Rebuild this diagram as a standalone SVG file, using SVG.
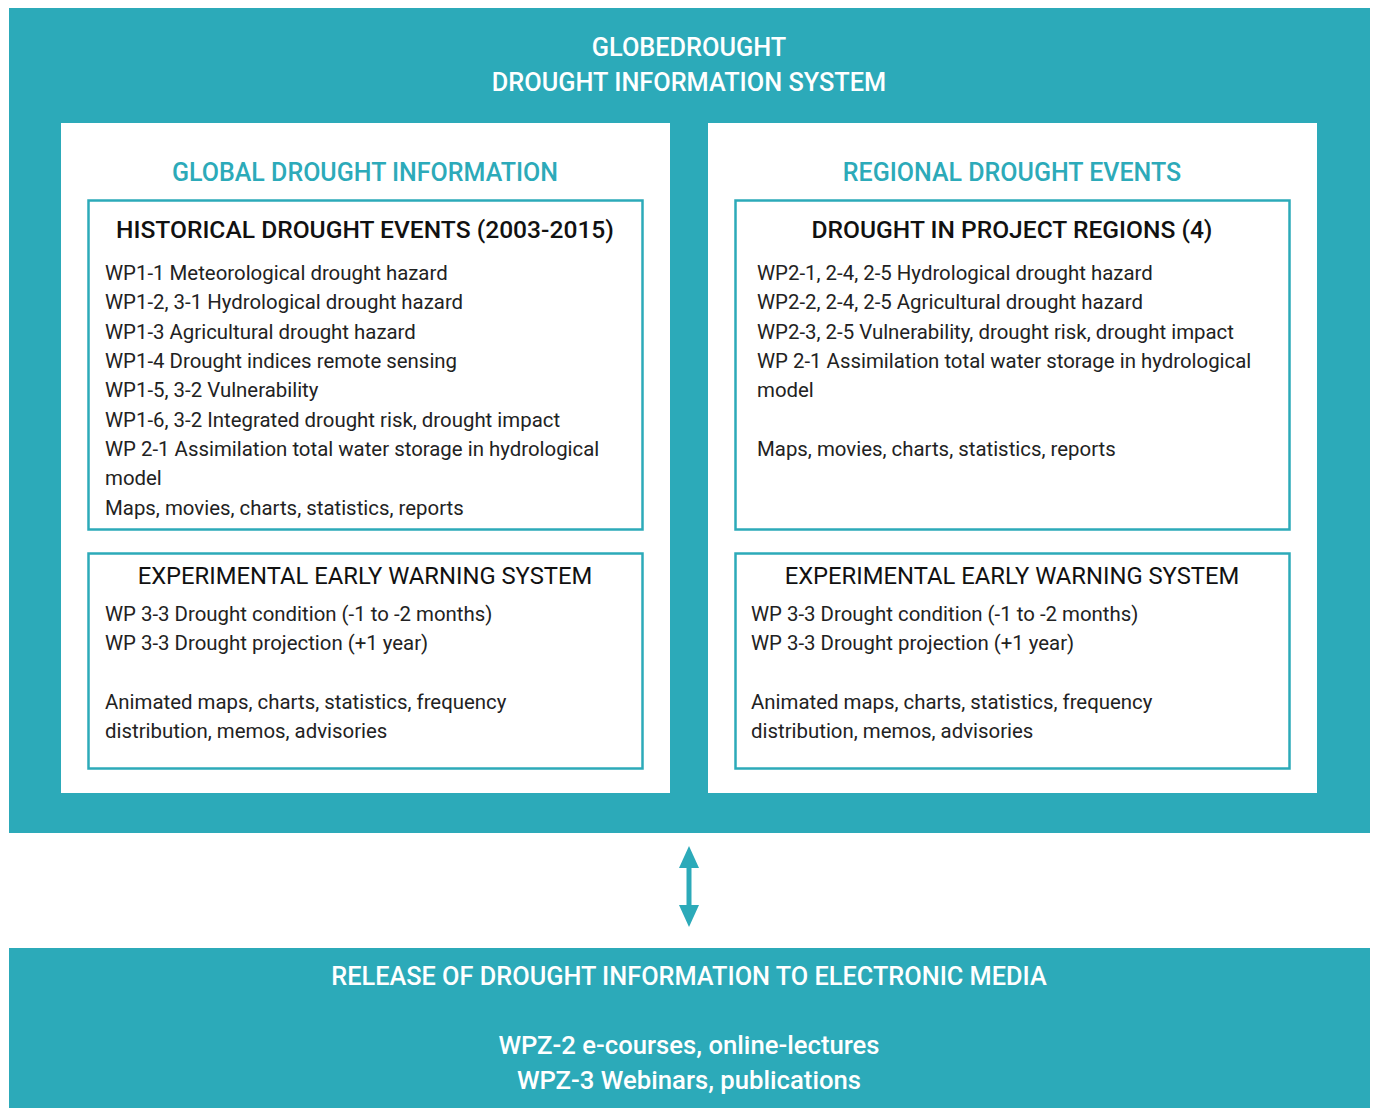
<svg xmlns="http://www.w3.org/2000/svg" width="1375" height="1108" viewBox="0 0 1375 1108">
<defs>
<style>
.teal{fill:#2caab9}
.panel{fill:#ffffff}
.box{fill:#ffffff;stroke:#2caab9;stroke-width:2.5}
text{font-family:Roboto,"Liberation Sans",sans-serif}
.hw{fill:#ffffff;font-size:25.3px;font-weight:500;text-anchor:middle}
.ht{fill:#2caab9;font-size:25px;font-weight:500;text-anchor:middle}
.bt{fill:#111111;font-size:24.6px;font-weight:500;text-anchor:middle}
.rt{fill:#111111;font-size:23.8px;font-weight:400;text-anchor:middle}
.ln{fill:#222222;font-size:20.4px}
.bw{fill:#ffffff;font-size:25.7px;font-weight:500;text-anchor:middle}
</style>
<marker id="ah" viewBox="0 0 11 10" refX="5" refY="5" markerWidth="4.4" markerHeight="4" orient="auto-start-reverse">
<path d="M0,0 L11,5 L0,10 z" fill="#2caab9"/>
</marker>
</defs>
<g id="system">
<rect class="teal" x="9" y="8" width="1361" height="825"/>
<text class="hw" x="689" y="56">GLOBEDROUGHT</text>
<text class="hw" x="689" y="91">DROUGHT INFORMATION SYSTEM</text>
</g>
<g id="global">
<rect class="panel" x="61" y="123" width="609" height="670"/>
<text class="ht" x="365" y="181">GLOBAL DROUGHT INFORMATION</text>
</g>
<g id="historical">
<rect class="box" x="88.5" y="200.5" width="554" height="329"/>
<text class="bt" x="365" y="238">HISTORICAL DROUGHT EVENTS (2003-2015)</text>
<text class="ln" x="105" y="280">WP1-1 Meteorological drought hazard</text>
<text class="ln" x="105" y="309">WP1-2, 3-1 Hydrological drought hazard</text>
<text class="ln" x="105" y="339">WP1-3 Agricultural drought hazard</text>
<text class="ln" x="105" y="368">WP1-4 Drought indices remote sensing</text>
<text class="ln" x="105" y="397">WP1-5, 3-2 Vulnerability</text>
<text class="ln" x="105" y="427">WP1-6, 3-2 Integrated drought risk, drought impact</text>
<text class="ln" x="105" y="456">WP 2-1 Assimilation total water storage in hydrological</text>
<text class="ln" x="105" y="485">model</text>
<text class="ln" x="105" y="515">Maps, movies, charts, statistics, reports</text>
</g>
<g id="ews-global">
<rect class="box" x="88.5" y="553.5" width="554" height="215"/>
<text class="rt" x="365" y="584">EXPERIMENTAL EARLY WARNING SYSTEM</text>
<text class="ln" x="105" y="621">WP 3-3 Drought condition (-1 to -2 months)</text>
<text class="ln" x="105" y="650">WP 3-3 Drought projection (+1 year)</text>
<text class="ln" x="105" y="709">Animated maps, charts, statistics, frequency</text>
<text class="ln" x="105" y="738">distribution, memos, advisories</text>
</g>
<g id="regional">
<rect class="panel" x="708" y="123" width="609" height="670"/>
<text class="ht" x="1012" y="181">REGIONAL DROUGHT EVENTS</text>
</g>
<g id="project-regions">
<rect class="box" x="735.5" y="200.5" width="554" height="329"/>
<text class="bt" x="1012" y="238">DROUGHT IN PROJECT REGIONS (4)</text>
<text class="ln" x="757" y="280">WP2-1, 2-4, 2-5 Hydrological drought hazard</text>
<text class="ln" x="757" y="309">WP2-2, 2-4, 2-5 Agricultural drought hazard</text>
<text class="ln" x="757" y="339">WP2-3, 2-5 Vulnerability, drought risk, drought impact</text>
<text class="ln" x="757" y="368">WP 2-1 Assimilation total water storage in hydrological</text>
<text class="ln" x="757" y="397">model</text>
<text class="ln" x="757" y="456">Maps, movies, charts, statistics, reports</text>
</g>
<g id="ews-regional">
<rect class="box" x="735.5" y="553.5" width="554" height="215"/>
<text class="rt" x="1012" y="584">EXPERIMENTAL EARLY WARNING SYSTEM</text>
<text class="ln" x="751" y="621">WP 3-3 Drought condition (-1 to -2 months)</text>
<text class="ln" x="751" y="650">WP 3-3 Drought projection (+1 year)</text>
<text class="ln" x="751" y="709">Animated maps, charts, statistics, frequency</text>
<text class="ln" x="751" y="738">distribution, memos, advisories</text>
</g>
<g id="release">
<rect class="teal" x="9" y="948" width="1361" height="160"/>
<text class="hw" x="689" y="985">RELEASE OF DROUGHT INFORMATION TO ELECTRONIC MEDIA</text>
<text class="bw" x="689" y="1054">WPZ-2 e-courses, online-lectures</text>
<text class="bw" x="689" y="1089">WPZ-3 Webinars, publications</text>
</g>
<g id="connectors">
<line x1="689" y1="858" x2="689" y2="915" stroke="#2caab9" stroke-width="5" marker-start="url(#ah)" marker-end="url(#ah)"/>
</g>
</svg>
